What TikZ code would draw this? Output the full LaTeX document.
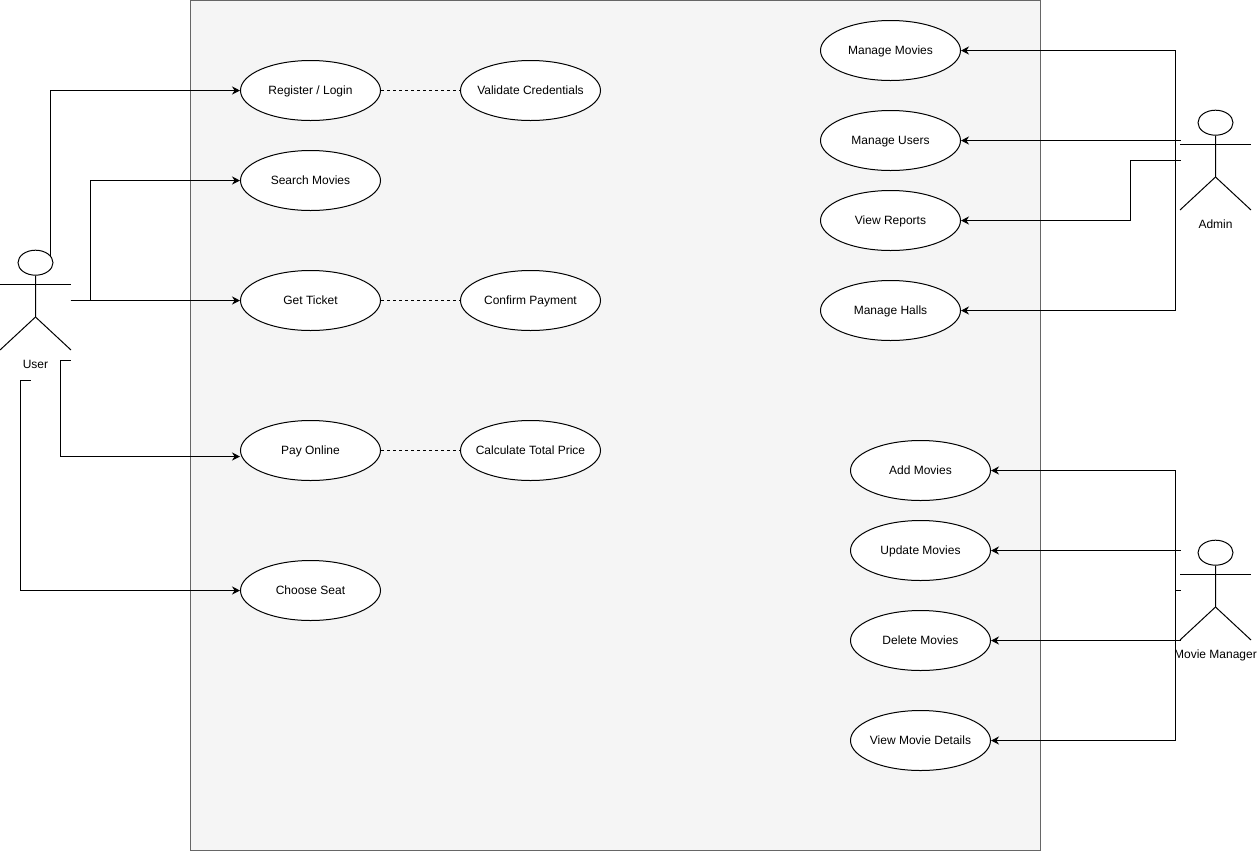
\documentclass[tikz,border=0pt]{standalone}
\usepackage{fontspec}
\setmainfont{Liberation Sans}
\usetikzlibrary{arrows.meta}
\usetikzlibrary{shapes.geometric}

\begin{document}
\begin{tikzpicture}[x=0.75pt, y=-0.75pt, line width=0.75pt, font=\fontsize{9}{11}\selectfont]
    \tikzset{usecase/.style={draw, shape=ellipse, fill=white, minimum width=105pt, minimum height=45pt, inner xsep=-25pt, inner ysep=0pt, text height=7.5pt, text depth=1.5pt}}
    \tikzset{head/.style={draw, shape=ellipse, minimum width=26.25pt, minimum height=18.75pt, inner sep=0pt}}
    \tikzset{actor/.style={inner sep=0pt, text height=7.5pt, text depth=1.5pt}}
    \tikzset{assoc/.style={-{Stealth[length=6pt, width=6pt]}}}
    \tikzset{incl/.style={dash pattern=on 2.25pt off 2.25pt}}
    \useasboundingbox (0,0) rectangle (1258,851);
    \node[draw=black!60, fill=black!4, minimum width=637.5pt, minimum height=637.5pt, inner sep=0pt] (system) at (615.5, 425.5) {};
    % user side
    \node[usecase] (register) at (310.5, 90.5) {Register / Login};
    \node[usecase] (validate) at (530.5, 90.5) {Validate Credentials};
    \node[usecase] (search) at (310.5, 180.5) {Search Movies};
    \node[usecase] (ticket) at (310.5, 300.5) {Get Ticket};
    \node[usecase] (confirm) at (530.5, 300.5) {Confirm Payment};
    \node[usecase] (pay) at (310.5, 450.5) {Pay Online};
    \node[usecase] (total) at (530.5, 450.5) {Calculate Total Price};
    \node[usecase] (seat) at (310.5, 590.5) {Choose Seat};
    % admin side
    \node[usecase] (movies) at (890.5, 50.5) {Manage Movies};
    \node[usecase] (users) at (890.5, 140.5) {Manage Users};
    \node[usecase] (reports) at (890.5, 220.5) {View Reports};
    \node[usecase] (halls) at (890.5, 310.5) {Manage Halls};
    % manager side
    \node[usecase] (add) at (920.5, 470.5) {Add Movies};
    \node[usecase] (update) at (920.5, 550.5) {Update Movies};
    \node[usecase] (delete) at (920.5, 640.5) {Delete Movies};
    \node[usecase] (details) at (920.5, 740.5) {View Movie Details};
    % actors
    \node[head] (userHead) at (35.5, 262.7) {};
    \node[actor] (user) at (35.5, 364) {User};
    \draw (userHead) -- (35.5, 317) -- (0, 350);
    \draw (35.5, 317) -- (71, 350);
    \draw (0, 284) -- (71, 284);
    \node[head] (adminHead) at (1215.5, 122.7) {};
    \node[actor] (admin) at (1215.5, 224) {Admin};
    \draw (adminHead) -- (1215.5, 177) -- (1180, 210);
    \draw (1215.5, 177) -- (1251, 210);
    \draw (1180, 144) -- (1251, 144);
    \node[head] (managerHead) at (1215.5, 552.7) {};
    \node[actor] (manager) at (1215.5, 654) {Movie Manager};
    \draw (managerHead) -- (1215.5, 607) -- (1180, 640);
    \draw (1215.5, 607) -- (1251, 640);
    \draw (1180, 574) -- (1251, 574);
    % free ends
    \coordinate (u1) at (50.5, 257);
    \coordinate (u2) at (70.5, 300.5);
    \coordinate (u3) at (70.5, 360.5);
    \coordinate (u4) at (30.5, 380.5);
    \coordinate (a1) at (1180.5, 140.5);
    \coordinate (a2) at (1180.5, 160.5);
    \coordinate (m1) at (1180.5, 550.5);
    \coordinate (m2) at (1180.5, 590.5);
    \coordinate (m3) at (1180.5, 640.5);
    % connectors
    \draw[assoc] (u1) |- (register);
    \draw[assoc] (u2) -- (90.5, 300.5) |- (search);
    \draw[assoc] (u2) -- (ticket);
    \draw[assoc] (u3) -- (60.5, 360.5) |- ([yshift=-4.5pt]pay.west);
    \draw[assoc] (u4) -- (20.5, 380.5) |- (seat);
    \draw[incl] (register) -- (validate);
    \draw[incl] (ticket) -- (confirm);
    \draw[incl] (pay) -- (total);
    \draw[assoc] (a1) -- (1175.5, 140.5) |- (movies);
    \draw[assoc] (a1) -- (users);
    \draw[assoc] (a2) -- (1130.5, 160.5) |- (reports);
    \draw[assoc] (a1) -- (1175.5, 140.5) |- (halls);
    \draw[assoc] (m1) -- (update);
    \draw[assoc] (m2) -- (1175.5, 590.5) |- (add);
    \draw[assoc] (m2) -- (1175.5, 590.5) |- (details);
    \draw[assoc] (m3) -- (delete);
\end{tikzpicture}
\end{document}
